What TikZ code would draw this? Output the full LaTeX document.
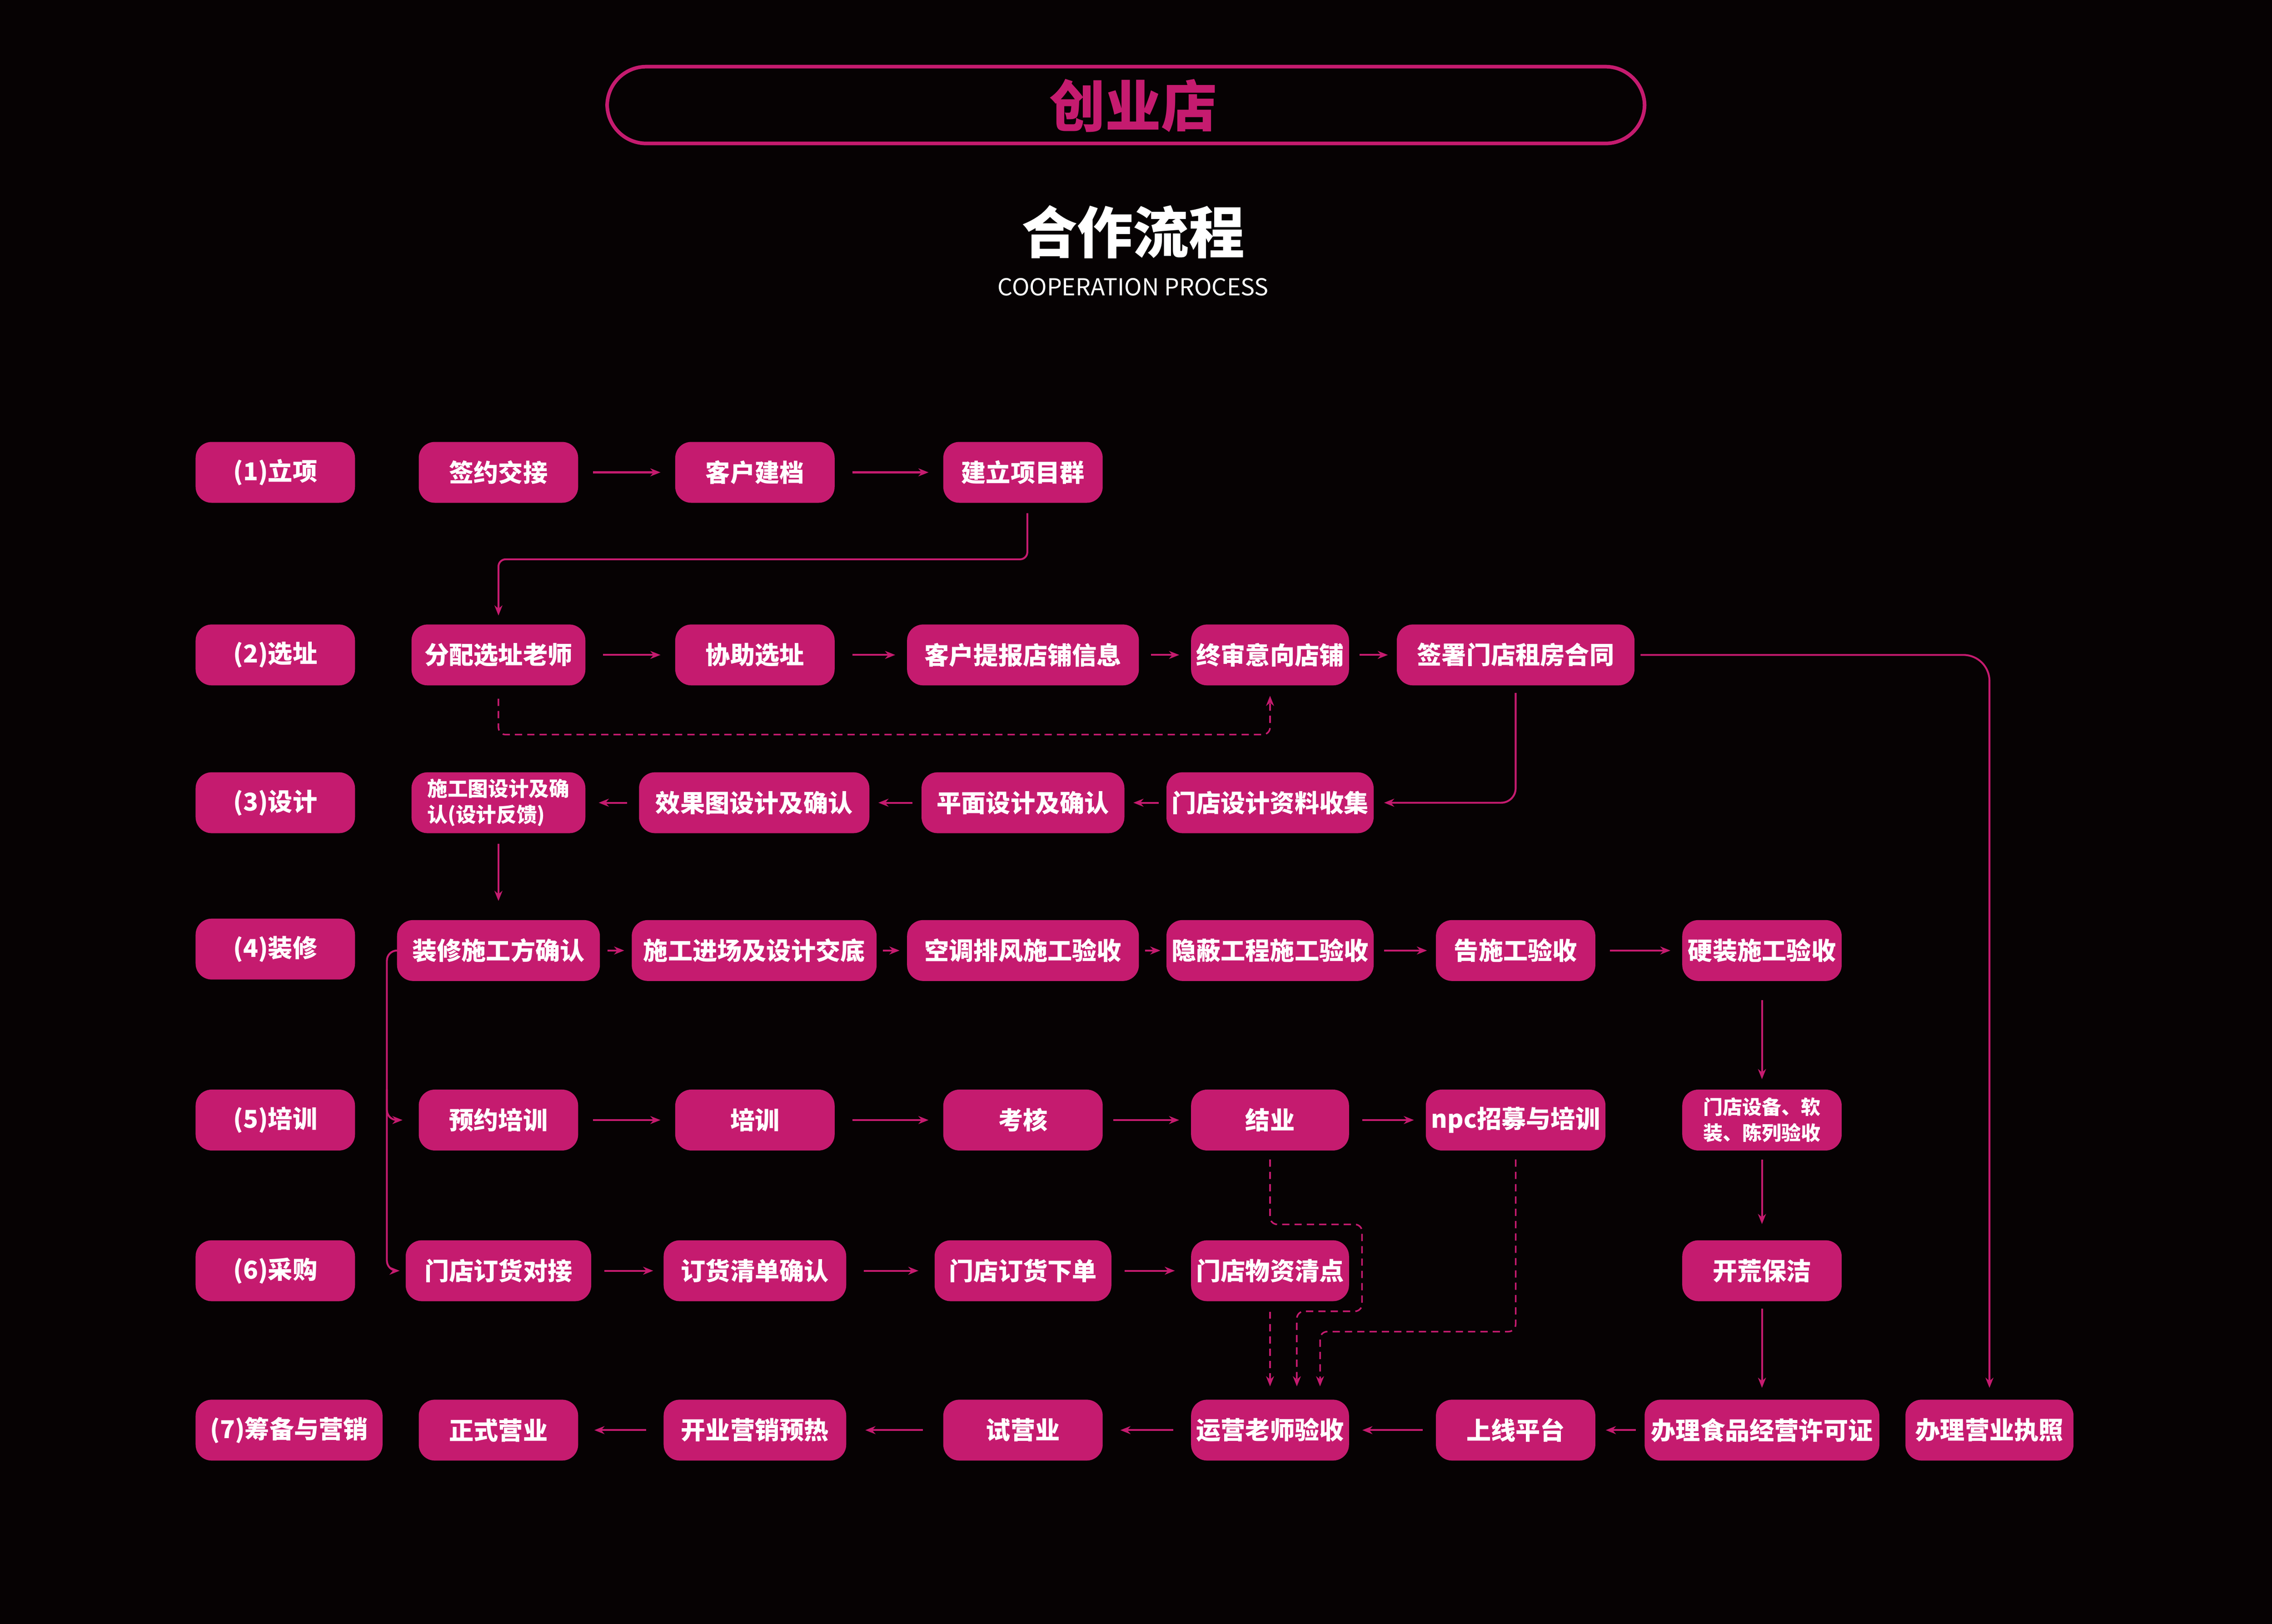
\documentclass[tikz,border=0pt]{standalone}
\usepackage{fontspec}
\setmainfont{Noto Sans CJK SC}
\usetikzlibrary{arrows.meta}
\definecolor{pk}{HTML}{C51B6F}
\definecolor{bg}{HTML}{060203}
\newcommand\harr[4]{\draw[arr, shorten <=#3pt, shorten >=#4pt] (#1) -- (#2);}
\begin{document}
\begin{tikzpicture}[x=1pt,y=-1pt,
  box/.style={fill=pk, rounded corners=11pt, minimum height=42pt, inner sep=0pt, text=white, font=\fontsize{17}{20}\selectfont\bfseries},
  small/.style={font=\fontsize{14}{18}\selectfont\bfseries, align=left},
  arr/.style={draw=pk, line width=1.3pt, -{Stealth[length=7pt,width=5.5pt]}},
  dsh/.style={arr, line width=1.1pt, dash pattern=on 5pt off 3.5pt}]
\useasboundingbox (0,0) rectangle (1568,1120.6);
\fill[bg] (-10,-10) rectangle (1578,1130);

% title
\node[draw=pk, line width=2.5pt, rounded corners=27pt, minimum width=716pt, minimum height=53pt] (ttlbox) at (777,72.5) {};
\node[text=pk, font=\fontsize{38.5}{40}\selectfont\bfseries, inner sep=0pt] (ttl) at (782,73) {创业店};
\node[text=white, font=\fontsize{38.5}{40}\selectfont\bfseries, inner sep=0pt] (sub) at (782,160) {合作流程};
\node[text=white, inner sep=0pt] (eng) at (782,198) {\resizebox{187pt}{12pt}{\fontsize{16}{16}\selectfont COOPERATION PROCESS}};

% labels
\node[box, minimum width=110pt] (L1) at (190,326) {(1)立项};
\node[box, minimum width=110pt] (L2) at (190,452) {(2)选址};
\node[box, minimum width=110pt] (L3) at (190,554) {(3)设计};
\node[box, minimum width=110pt] (L4) at (190,655) {(4)装修};
\node[box, minimum width=110pt] (L5) at (190,773) {(5)培训};
\node[box, minimum width=110pt] (L6) at (190,877) {(6)采购};
\node[box, minimum width=129pt] (L7) at (199.5,987) {(7)筹备与营销};

% row 1
\node[box, minimum width=110pt] (a1) at (344,326) {签约交接};
\node[box, minimum width=110pt] (a2) at (521,326) {客户建档};
\node[box, minimum width=110pt] (a3) at (706,326) {建立项目群};
% row 2
\node[box, minimum width=120pt] (b1) at (344,452) {分配选址老师};
\node[box, minimum width=110pt] (b2) at (521,452) {协助选址};
\node[box, minimum width=160pt] (b3) at (706,452) {客户提报店铺信息};
\node[box, minimum width=109pt] (b4) at (876.5,452) {终审意向店铺};
\node[box, minimum width=164pt] (b5) at (1046,452) {签署门店租房合同};
% row 3
\node[box, small, minimum width=120pt] (c1) at (344,554) {施工图设计及确\\认(设计反馈)};
\node[box, minimum width=159pt] (c2) at (520.5,554) {效果图设计及确认};
\node[box, minimum width=140pt] (c3) at (706,554) {平面设计及确认};
\node[box, minimum width=143pt] (c4) at (876.5,554) {门店设计资料收集};
% row 4
\node[box, minimum width=140pt] (d1) at (344,656) {装修施工方确认};
\node[box, minimum width=169pt] (d2) at (520.5,656) {施工进场及设计交底};
\node[box, minimum width=160pt] (d3) at (706,656) {空调排风施工验收};
\node[box, minimum width=143pt] (d4) at (876.5,656) {隐蔽工程施工验收};
\node[box, minimum width=110pt] (d5) at (1046,656) {告施工验收};
\node[box, minimum width=110pt] (d6) at (1216,656) {硬装施工验收};
% row 5
\node[box, minimum width=110pt] (e1) at (344,773) {预约培训};
\node[box, minimum width=110pt] (e2) at (521,773) {培训};
\node[box, minimum width=110pt] (e3) at (706,773) {考核};
\node[box, minimum width=109pt] (e4) at (876.5,773) {结业};
\node[box, minimum width=124pt] (e5) at (1046,773) {npc招募与培训};
\node[box, small, align=center, font=\fontsize{13.5}{18}\selectfont\bfseries, minimum width=110pt] (e6) at (1216,773) {门店设备、软\\装、陈列验收};
% row 6
\node[box, minimum width=128pt] (f1) at (344,877) {门店订货对接};
\node[box, minimum width=126pt] (f2) at (521,877) {订货清单确认};
\node[box, minimum width=122pt] (f3) at (706,877) {门店订货下单};
\node[box, minimum width=109pt] (f4) at (876.5,877) {门店物资清点};
\node[box, minimum width=110pt] (f5) at (1216,877) {开荒保洁};
% row 7
\node[box, minimum width=110pt] (g1) at (344,987) {正式营业};
\node[box, minimum width=126pt] (g2) at (521,987) {开业营销预热};
\node[box, minimum width=110pt] (g3) at (706,987) {试营业};
\node[box, minimum width=109pt] (g4) at (876.5,987) {运营老师验收};
\node[box, minimum width=110pt] (g5) at (1046,987) {上线平台};
\node[box, minimum width=162pt] (g6) at (1216,987) {办理食品经营许可证};
\node[box, minimum width=116pt] (g7) at (1373,987) {办理营业执照};

% horizontal arrows
\harr{a1.east}{a2.west}{10}{10}
\harr{a2.east}{a3.west}{12}{10}
\harr{b1.east}{b2.west}{12}{10}
\harr{b2.east}{b3.west}{12}{8}
\harr{b3.east}{b4.west}{8}{8}
\harr{b4.east}{b5.west}{7}{6}
\harr{c4.west}{c3.east}{5}{6}
\harr{c3.west}{c2.east}{6}{6}
\harr{c2.west}{c1.east}{8}{9}
\harr{d1.east}{d2.west}{5}{5}
\harr{d2.east}{d3.west}{4}{5}
\harr{d3.east}{d4.west}{4}{4}
\harr{d4.east}{d5.west}{7}{6}
\harr{d5.east}{d6.west}{10}{8}
\harr{e1.east}{e2.west}{10}{10}
\harr{e2.east}{e3.west}{12}{10}
\harr{e3.east}{e4.west}{7}{8}
\harr{e4.east}{e5.west}{9}{8}
\harr{f1.east}{f2.west}{9}{7}
\harr{f2.east}{f3.west}{12}{11}
\harr{f3.east}{f4.west}{9}{11}
\harr{g6.west}{g5.east}{6}{7}
\harr{g5.west}{g4.east}{9}{9}
\harr{g4.west}{g3.east}{12}{12}
\harr{g3.west}{g2.east}{14}{13}
\harr{g2.west}{g1.east}{12}{11}

% vertical / routed connectors
\draw[arr, rounded corners=5pt, shorten <=7pt, shorten >=6pt] ([xshift=3pt]a3.south) -- ([xshift=3pt]a3.south |- 0,386) -- (b1.north |- 0,386) -- (b1.north);
\draw[dsh, rounded corners=5pt, shorten <=9pt, shorten >=7pt] (b1.south) -- (b1.south |- 0,507) -- (b4.south |- 0,507) -- (b4.south);
\draw[arr, rounded corners=18pt, shorten <=4pt, shorten >=8pt] (b5.east) -- (g7.north |- b5.east) -- (g7.north);
\draw[arr, rounded corners=10pt, shorten <=5pt, shorten >=7pt] (b5.south) -- (b5.south |- c4.east) -- (c4.east);
\draw[arr, shorten <=7pt, shorten >=13pt] (c1.south) -- (d1.north);
\coordinate (busTop) at (267,656);
\coordinate (busMid) at (267,752);
\draw[arr, rounded corners=7pt, shorten >=4pt] (d1.west) -- (busTop) -- (busTop |- f1.west) -- (f1.west);
\draw[arr, rounded corners=7pt, shorten >=11pt] (busMid) -- (busMid |- e1.west) -- (e1.west);
\draw[arr, shorten <=13pt, shorten >=7pt] (d6.south) -- (e6.north);
\draw[arr, shorten <=6pt, shorten >=11pt] (e6.south) -- (f5.north);
\draw[arr, shorten <=5pt, shorten >=8pt] (f5.south) -- (g6.north);
\draw[dsh, rounded corners=5pt, shorten <=6pt, shorten >=9pt] (e4.south) -- (e4.south |- 0,845) -- (940,845) -- (940,905) -- (895,905) -- ([xshift=18.5pt]g4.north);
\draw[dsh, shorten <=7pt, shorten >=9pt] (f4.south) -- (g4.north);
\draw[dsh, rounded corners=5pt, shorten <=6pt, shorten >=9pt] (e5.south) -- (e5.south |- 0,919) -- (911,919) -- ([xshift=34.5pt]g4.north);
\end{tikzpicture}
\end{document}
